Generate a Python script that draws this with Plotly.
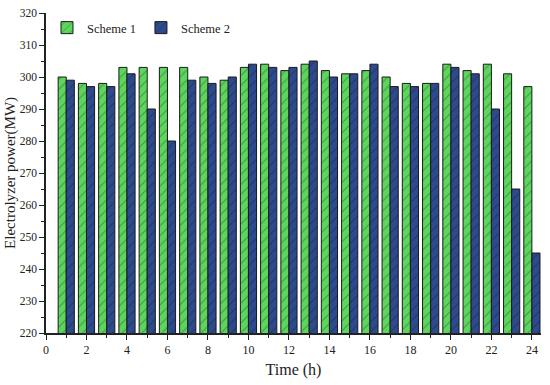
import plotly.graph_objects as go

hours = list(range(1, 25))
scheme1 = [300, 298, 298, 303, 303, 303, 303, 300, 299, 303, 304, 302,
           304, 302, 301, 302, 300, 298, 298, 304, 302, 304, 301, 297]
scheme2 = [299, 297, 297, 301, 290, 280, 299, 298, 300, 304, 303, 303,
           305, 300, 301, 304, 297, 297, 298, 303, 301, 290, 265, 245]

font = "Liberation Serif, Times New Roman, serif"

fig = go.Figure()
fig.add_trace(go.Bar(
    x=hours, y=scheme1, name="Scheme 1",
    marker=dict(color="#5cd65c", line=dict(color="#1a1a1a", width=1),
                pattern=dict(shape="/", fgcolor="#2a5a2a", size=7, solidity=0.15)),
))
fig.add_trace(go.Bar(
    x=hours, y=scheme2, name="Scheme 2",
    marker=dict(color="#2e4a8e", line=dict(color="#1a1a1a", width=1),
                pattern=dict(shape="/", fgcolor="#15203d", size=7, solidity=0.15)),
))

fig.update_layout(
    width=550, height=385,
    margin=dict(l=46, r=9, t=13, b=52),
    paper_bgcolor="white", plot_bgcolor="white",
    barmode="group", bargap=0.2, bargroupgap=0.0,
    font=dict(family=font, size=12, color="#222"),
    legend=dict(orientation="h", x=0.002, y=1.0, xanchor="left", yanchor="top",
                font=dict(family=font, size=12.5, color="#222"),
                bgcolor="rgba(0,0,0,0)", itemwidth=30),
    showlegend=True,
    annotations=[dict(
        text="Electrolyzer power(MW)", xref="paper", yref="paper",
        x=-36 / 494, y=0.5, xanchor="center", yanchor="middle",
        textangle=-90, showarrow=False,
        font=dict(family=font, size=15, color="#222"),
    )],
)
fig.update_xaxes(
    automargin=False,
    range=[0, 24.45], tickmode="array", tickvals=list(range(0, 25, 2)),
    ticks="outside", ticklen=5, tickwidth=1, tickcolor="#222",
    minor=dict(tickvals=list(range(1, 25, 2)), ticks="outside", ticklen=3, tickcolor="#222"),
    showline=True, linecolor="#222", linewidth=1.5, showgrid=False, zeroline=False,
    title=dict(text="Time (h)", font=dict(family=font, size=16), standoff=8),
    tickfont=dict(family=font, size=12),
)
fig.update_yaxes(
    automargin=False,
    range=[220, 320], tickmode="array", tickvals=list(range(220, 321, 10)),
    ticks="outside", ticklen=5, tickwidth=1, tickcolor="#222",
    minor=dict(tickvals=list(range(225, 320, 10)), ticks="outside", ticklen=3, tickcolor="#222"),
    showline=True, linecolor="#222", linewidth=1.5, showgrid=False, zeroline=False,
    tickfont=dict(family=font, size=11.5),
)

fig.write_html("out.html", config={"displayModeBar": False},
               post_script="document.body.style.margin='0';")
